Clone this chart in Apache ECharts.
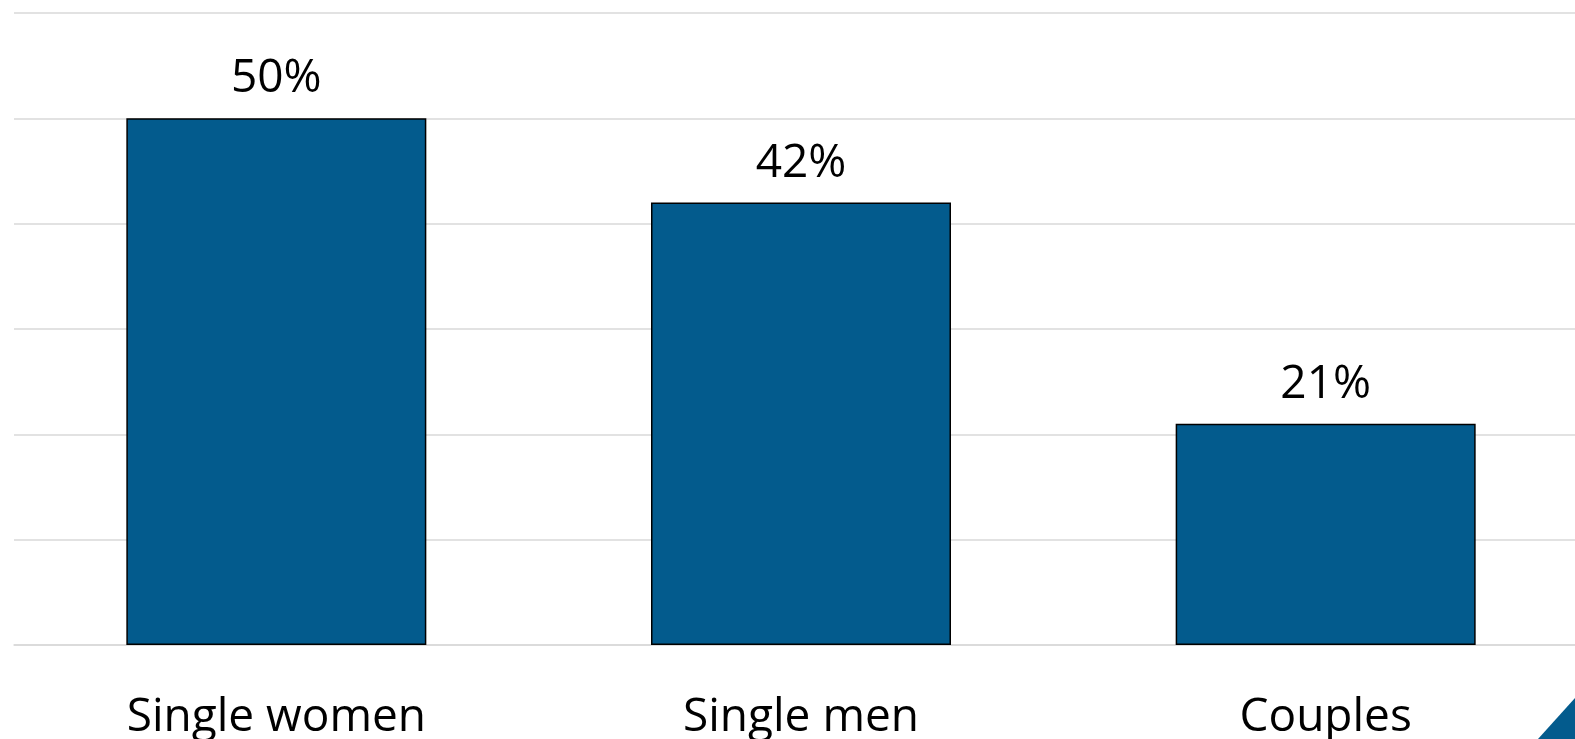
<!DOCTYPE html>
<html>
<head>
<meta charset="utf-8">
<script src="https://cdn.jsdelivr.net/npm/echarts@6/dist/echarts.min.js"></script>
<style>
html,body{margin:0;padding:0;background:#fff;}
#c{width:1575px;height:739px;}
</style>
</head>
<body>
<div id="c"></div>
<script>
var categories = ['Single women', 'Single men', 'Couples'];
var values = [50, 42, 21];
var yTicks = [0, 10, 20, 30, 40, 50, 60];

var chart = echarts.init(document.getElementById('c'), null, {renderer: 'canvas'});
var font = '"Open Sans", "Noto Sans", sans-serif';
chart.setOption({
  animation: false,
  backgroundColor: '#ffffff',
  grid: {left: 14, top: 13, right: -13, bottom: 94, containLabel: false, outerBoundsMode: 'none'},
  xAxis: {
    type: 'category',
    data: categories,
    axisLine: {show: true, lineStyle: {color: '#d9d9d9', width: 1.5}},
    axisTick: {show: false},
    axisLabel: {color: '#000', fontFamily: font, fontSize: 46, margin: 50, lineHeight: 46}
  },
  yAxis: {
    type: 'value',
    min: yTicks[0],
    max: yTicks[yTicks.length - 1],
    interval: yTicks[1] - yTicks[0],
    axisLabel: {show: false},
    axisLine: {show: false},
    axisTick: {show: false},
    splitLine: {lineStyle: {color: '#d9d9d9', width: 1.5}}
  },
  series: [{
    type: 'bar',
    data: values,
    barWidth: 300,
    itemStyle: {color: '#035B8D', borderColor: '#000', borderWidth: 1.5},
    label: {
      show: true,
      position: 'top',
      distance: 16,
      formatter: '{c}%',
      color: '#000',
      fontFamily: font,
      fontSize: 46,
      lineHeight: 46
    }
  }],
  graphic: [{
    type: 'polygon',
    shape: {points: [[1538, 739], [1575, 698], [1575, 739]]},
    style: {fill: '#035B8D'},
    z: 10
  }]
});
</script>
</body>
</html>
